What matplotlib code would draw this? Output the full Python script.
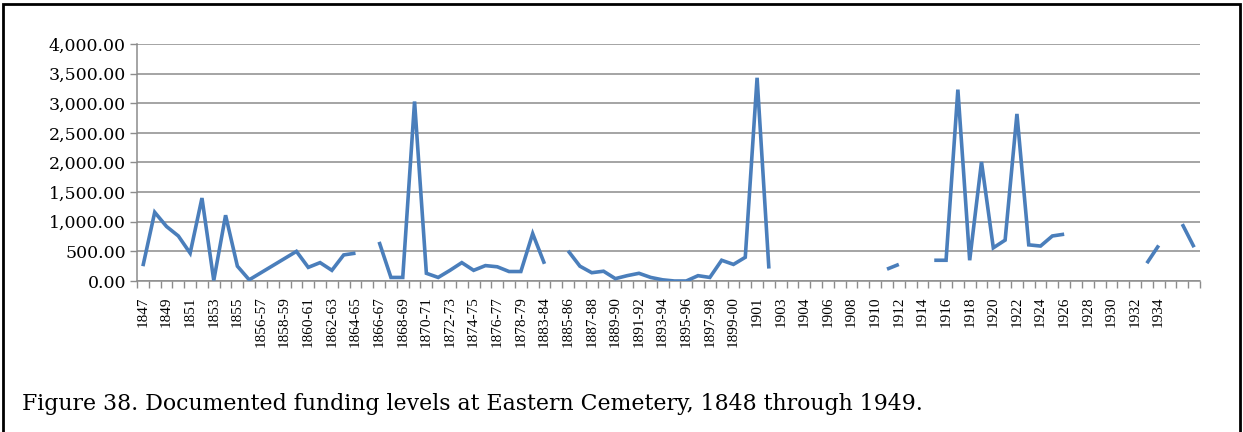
import numpy as np
import matplotlib
matplotlib.use("Agg")
import matplotlib.pyplot as plt
from matplotlib.patches import Rectangle
from matplotlib.ticker import FuncFormatter

# ---- data -------------------------------------------------------------
categories = [
    "1847", "1848", "1849", "1850", "1851", "1852", "1853", "1854", "1855", "1856",
    "1856-57", "1857-58", "1858-59", "1859-60", "1860-61", "1861-62", "1862-63", "1863-64",
    "1864-65", "1865-66", "1866-67", "1867-68", "1868-69", "1869-70", "1870-71", "1871-72",
    "1872-73", "1873-74", "1874-75", "1875-76", "1876-77", "1877-78", "1878-79", "1879-80",
    "1883-84", "1884-85", "1885-86", "1886-87", "1887-88", "1888-89", "1889-90", "1890-91",
    "1891-92", "1892-93", "1893-94", "1894-95", "1895-96", "1896-97", "1897-98", "1898-99",
    "1899-00", "1900", "1901", "1902", "1903", "1903-04", "1904", "1905", "1906", "1907",
    "1908", "1909", "1910", "1911", "1912", "1913", "1914", "1915", "1916", "1917",
    "1918", "1919", "1920", "1921", "1922", "1923", "1924", "1925", "1926", "1927",
    "1928", "1929", "1930", "1931", "1932", "1933", "1934", "1935", "1936", "1937",
]

nan = np.nan
funding = [
    250, 1160, 920, 760, 470, 1400, 10, 1110, 250, 20,
    140, 260, 380, 500, 230, 310, 180, 440, 470, nan,
    660, 60, 60, 3030, 130, 60, 180, 310, 180, 260,
    240, 160, 160, 800, 290, nan, 510, 250, 140, 165,
    40, 90, 130, 60, 20, 0, 0, 90, 60, 350,
    280, 400, 3430, 210, nan, nan, nan, nan, nan, nan,
    nan, nan, nan, 200, 280, nan, nan, 350, 350, 3230,
    350, 2010, 560, 690, 2820, 610, 590, 760, 790, nan,
    nan, nan, nan, nan, nan, 300, 600, nan, 960, 570,
]

tick_labels = [
    "1847", "1849", "1851", "1853", "1855", "1856-57", "1858-59", "1860-61", "1862-63",
    "1864-65", "1866-67", "1868-69", "1870-71", "1872-73", "1874-75", "1876-77", "1878-79",
    "1883-84", "1885-86", "1887-88", "1889-90", "1891-92", "1893-94", "1895-96", "1897-98",
    "1899-00", "1901", "1903", "1904", "1906", "1908", "1910", "1912", "1914", "1916",
    "1918", "1920", "1922", "1924", "1926", "1928", "1930", "1932", "1934",
]

caption = "Figure 38. Documented funding levels at Eastern Cemetery, 1848 through 1949."

# ---- figure -----------------------------------------------------------
W, H, DPI = 1243, 432, 100
fig = plt.figure(figsize=(W / DPI, H / DPI), dpi=DPI)
ax = fig.add_axes([137 / W, 1 - 281 / H, (1200 - 137) / W, (281 - 44) / H])

x = np.arange(len(categories))
ax.plot(x, funding, color="#4A7EBB", linewidth=2.6, solid_joinstyle="miter",
        solid_capstyle="butt", zorder=3)

grid_col = "#8C8C8C"
ax.set_xlim(-0.5, len(categories) - 0.5)
ax.set_ylim(0, 4000)
ax.set_yticks(np.arange(0, 4001, 500))
ax.yaxis.set_major_formatter(FuncFormatter(lambda v, p: f"{v:,.2f}"))
ax.grid(axis="y", color=grid_col, linewidth=1.1, zorder=1)
ax.set_axisbelow(True)

# category ticks: mark every category boundary, label every second category
ax.set_xticks(np.arange(-0.5, len(categories), 1.0), minor=True)
label_pos = [categories.index(t) for t in tick_labels]
ax.set_xticks(label_pos)
ax.set_xticklabels(tick_labels, rotation=90)
ax.tick_params(axis="x", which="major", length=0, pad=11, colors="#000000",
               labelsize=11, labelfontfamily="Liberation Serif")
ax.tick_params(axis="x", which="minor", length=5, color=grid_col, width=1.0)
ax.tick_params(axis="y", length=5, color=grid_col, width=1.0, pad=3,
               labelsize=12.5, labelfontfamily="DejaVu Serif", labelcolor="#000000")

for side in ("top", "right"):
    ax.spines[side].set_visible(False)
for side in ("left", "bottom"):
    ax.spines[side].set_color(grid_col)
    ax.spines[side].set_linewidth(1.1)

# caption and outer frame
fig.text(22 / W, 1 - 404 / H, caption, fontfamily="DejaVu Serif", fontsize=15.8,
         va="center", ha="left")
fig.patches.append(Rectangle((3 / W, -0.05), (1240 - 3) / W, 1.05 - 4 / H,
                             transform=fig.transFigure, fill=False,
                             edgecolor="black", linewidth=2))

fig.savefig("out.png", dpi=DPI)
